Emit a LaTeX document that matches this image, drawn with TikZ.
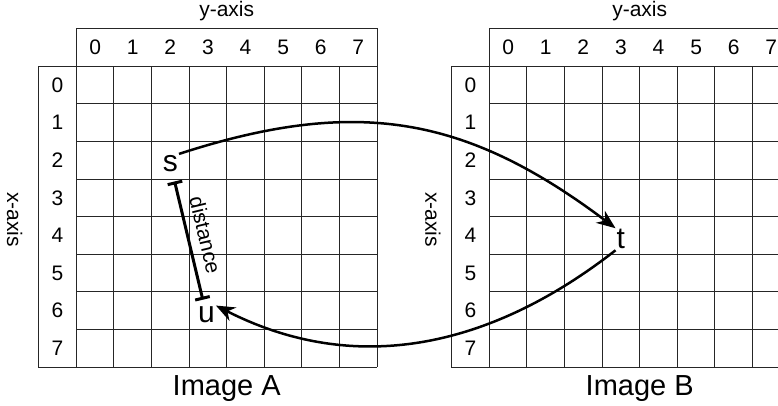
\documentclass[tikz,border=0pt]{standalone}
\usepackage{fontspec}
\setmainfont{Liberation Sans}
\usetikzlibrary{arrows.meta}

\tikzset{
  gridline/.style={line width=1pt, black!85},
  lbl/.style={font=\fontsize{21}{21}\selectfont},
  big/.style={font=\fontsize{29}{29}\selectfont},
  pointlbl/.style={font=\fontsize{30}{30}\selectfont, inner sep=1pt},
  hop/.style={line width=2.5pt, -{Stealth[length=19pt,width=15pt]}},
  measure/.style={line width=3pt, {Bar[width=15pt]}-{Bar[width=15pt]}},
}

\begin{document}
\begin{tikzpicture}[x=1pt,y=-1pt]
\clip (0,0) rectangle (778,406);

% ---------- Image A ----------
\begin{scope}[shift={(76.3,66.3)},x=37.6pt,y=-37.6pt]
\foreach \k in {0,...,8} {
  \draw[gridline] (\k,0) -- (\k,8);
  \draw[gridline] (0,\k) -- (8,\k);
}
\draw[gridline] (0,-1) rectangle (8,0);
\draw[gridline] (-1,0) rectangle (0,8);
\foreach \i in {0,...,7} {
  \node[lbl] (colA\i) at (\i+0.5,-0.5) {\i};
  \node[lbl] (rowA\i) at (-0.5,\i+0.5) {\i};
}
\node[lbl] (yaxisA) at (4,-1.47) {y-axis};
\node[lbl,rotate=-90] (xaxisA) at (-1.64,4.08) {x-axis};
\node[big] (imageA) at (4,8.57) {Image A};
\node[pointlbl] (s) at (2.5,2.58) {s};
\node[pointlbl] (u) at (3.46,6.61) {u};
\end{scope}

% ---------- Image B ----------
\begin{scope}[shift={(489.3,66.3)},x=37.6pt,y=-37.6pt]
\foreach \k in {0,...,8} {
  \draw[gridline] (\k,0) -- (\k,8);
  \draw[gridline] (0,\k) -- (8,\k);
}
\draw[gridline] (0,-1) rectangle (8,0);
\draw[gridline] (-1,0) rectangle (0,8);
\foreach \i in {0,...,7} {
  \node[lbl] (colB\i) at (\i+0.5,-0.5) {\i};
  \node[lbl] (rowB\i) at (-0.5,\i+0.5) {\i};
}
\node[lbl] (yaxisB) at (4,-1.47) {y-axis};
\node[lbl,rotate=-90] (xaxisB) at (-1.50,4.08) {x-axis};
\node[big] (imageB) at (4,8.57) {Image B};
\node[pointlbl] (t) at (3.5,4.6) {t};
\end{scope}

% ---------- distance s -- u ----------
\draw[measure, shorten <=9pt, shorten >=6pt] (s) -- (u)
  node[lbl, midway, sloped, above=5pt] {distance};

% ---------- mapping arrows ----------
\draw[hop] (s.north east) to[out=18, in=143, looseness=1.08] (t.north west);
\draw[hop] (t.south west) to[out=218, in=-27, looseness=1.0] (u.north east);

\end{tikzpicture}
\end{document}
